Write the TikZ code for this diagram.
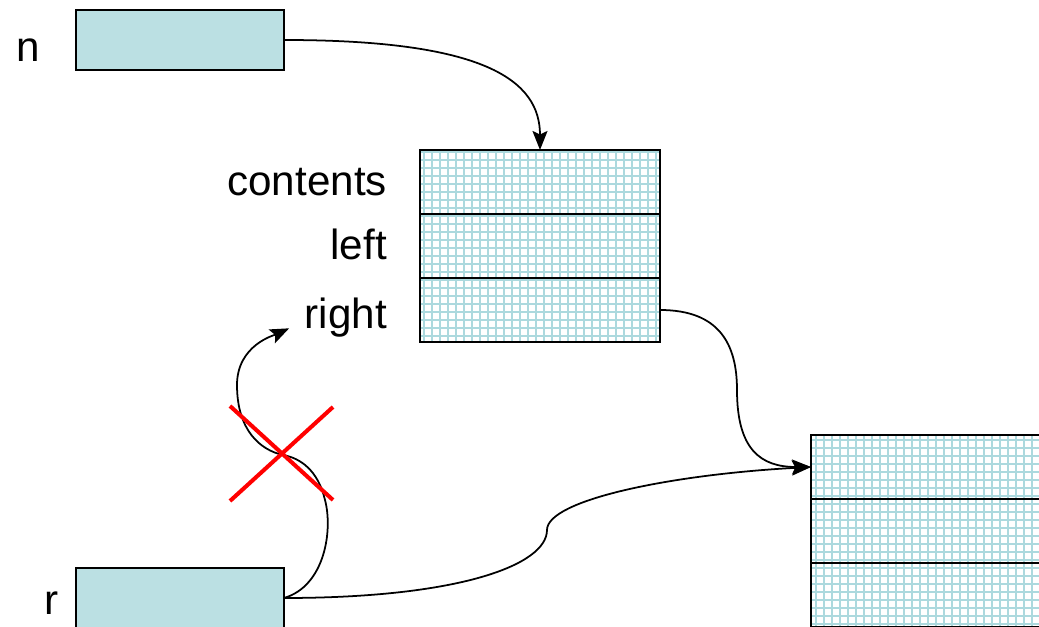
\documentclass[tikz,border=0pt]{standalone}
\usepackage{fontspec}
\setmainfont{Liberation Sans}
\usepackage{tikz}
\usetikzlibrary{arrows.meta, backgrounds, positioning}
\definecolor{boxblue}{RGB}{187,224,227}
\definecolor{gridblue}{RGB}{172,217,222}
\tikzset{
    varnode/.style = {draw, rectangle, fill=boxblue, line width=1.1pt, minimum width=4.16cm,
      minimum height=1.2cm, inner sep=0em, outer sep=0em},
    cellnode/.style = {draw, rectangle, line width=1.1pt, minimum width=4.8cm,
      minimum height=1.28cm, inner sep=0em, outer sep=0em},
    textnode/.style = {draw=none, fill=none, rectangle, inner sep=0.1em,
      text height=0.72em, text depth=0em, font=\fontsize{24}{28}\selectfont},
    gridlines/.style = {draw=gridblue, line width=1.2pt, step=0.16cm},
    connect/.style = {black, line width=1pt, -{Stealth[length=0.38cm, width=0.3cm, inset=0.07cm]}},
    crossline/.style = {red, line width=2.3pt}
}

\begin{document}
\begin{tikzpicture}
    \useasboundingbox (0,0) rectangle (20.78,-12.54);
    \clip (0,0) rectangle (20.78,-12.54);

    % variables n and r
    \node [varnode, name=n] at (3.6,-0.8) {};
    \node [textnode, name=labn, left=0.68cm of n, yshift=-0.3cm] {n};
    \node [varnode, name=r] at (3.6,-11.96) {};
    \node [textnode, name=labr, left=0.3cm of r, yshift=-0.2cm] {r};

    % node pointed to by n
    \node [cellnode, name=cellcontents] at (10.8,-3.64) {};
    \node [cellnode, name=cellleft, below=0em of cellcontents] {};
    \node [cellnode, name=cellright, below=0em of cellleft] {};
    \node [textnode, name=labcontents, left=0.62cm of cellcontents, yshift=-0.14cm] {contents};
    \node [textnode, name=lableft, left=0.62cm of cellleft, yshift=-0.14cm] {left};
    \node [textnode, name=labright, left=0.62cm of cellright, yshift=-0.24cm] {right};

    % node pointed to by right
    \node [cellnode, name=rcontents] at (18.62,-9.34) {};
    \node [cellnode, name=rleft, below=0em of rcontents] {};
    \node [cellnode, name=rright, below=0em of rleft] {};

    \begin{scope}[on background layer]
        \draw [gridlines] (cellcontents.north west) grid (cellright.south east);
        \draw [gridlines] (rcontents.north west) grid (rright.south east);
    \end{scope}

    \draw [connect] (n.east) .. controls +(4.0,0) and +(0,1.4) .. (cellcontents.north);
    \draw [connect] (cellright.east) .. controls +(1.2,0) and +(0,0.9) .. (14.74,-7.8)
        .. controls +(0,-1.2) and +(-1.0,0) .. (rcontents.west);
    \draw [connect] (r.east) .. controls +(3.5,0) and +(0,-0.7) .. (10.94,-10.6)
        .. controls +(0,0.6) and +(-2.8,-0.15) .. (rcontents.west);
    \draw [connect, shorten >=0.3cm] (r.east) .. controls +(0.82,0.24) and +(0.16,-0.6) .. (6.5,-10.0)
        .. controls +(-0.14,0.6) and +(0.34,-0.06) .. (5.66,-9.1)
        .. controls +(-0.46,0.1) and +(0,-0.9) .. (4.74,-7.7)
        .. controls +(0,0.8) and +(-0.56,-0.26) .. (labright.west);

    % crossed out
    \coordinate (cross) at (5.63,-9.07);
    \draw [crossline] (cross) +(-1.03,0.95) -- +(1.03,-0.93);
    \draw [crossline] (cross) +(1.03,0.93) -- +(-1.03,-0.95);
\end{tikzpicture}
\end{document}
